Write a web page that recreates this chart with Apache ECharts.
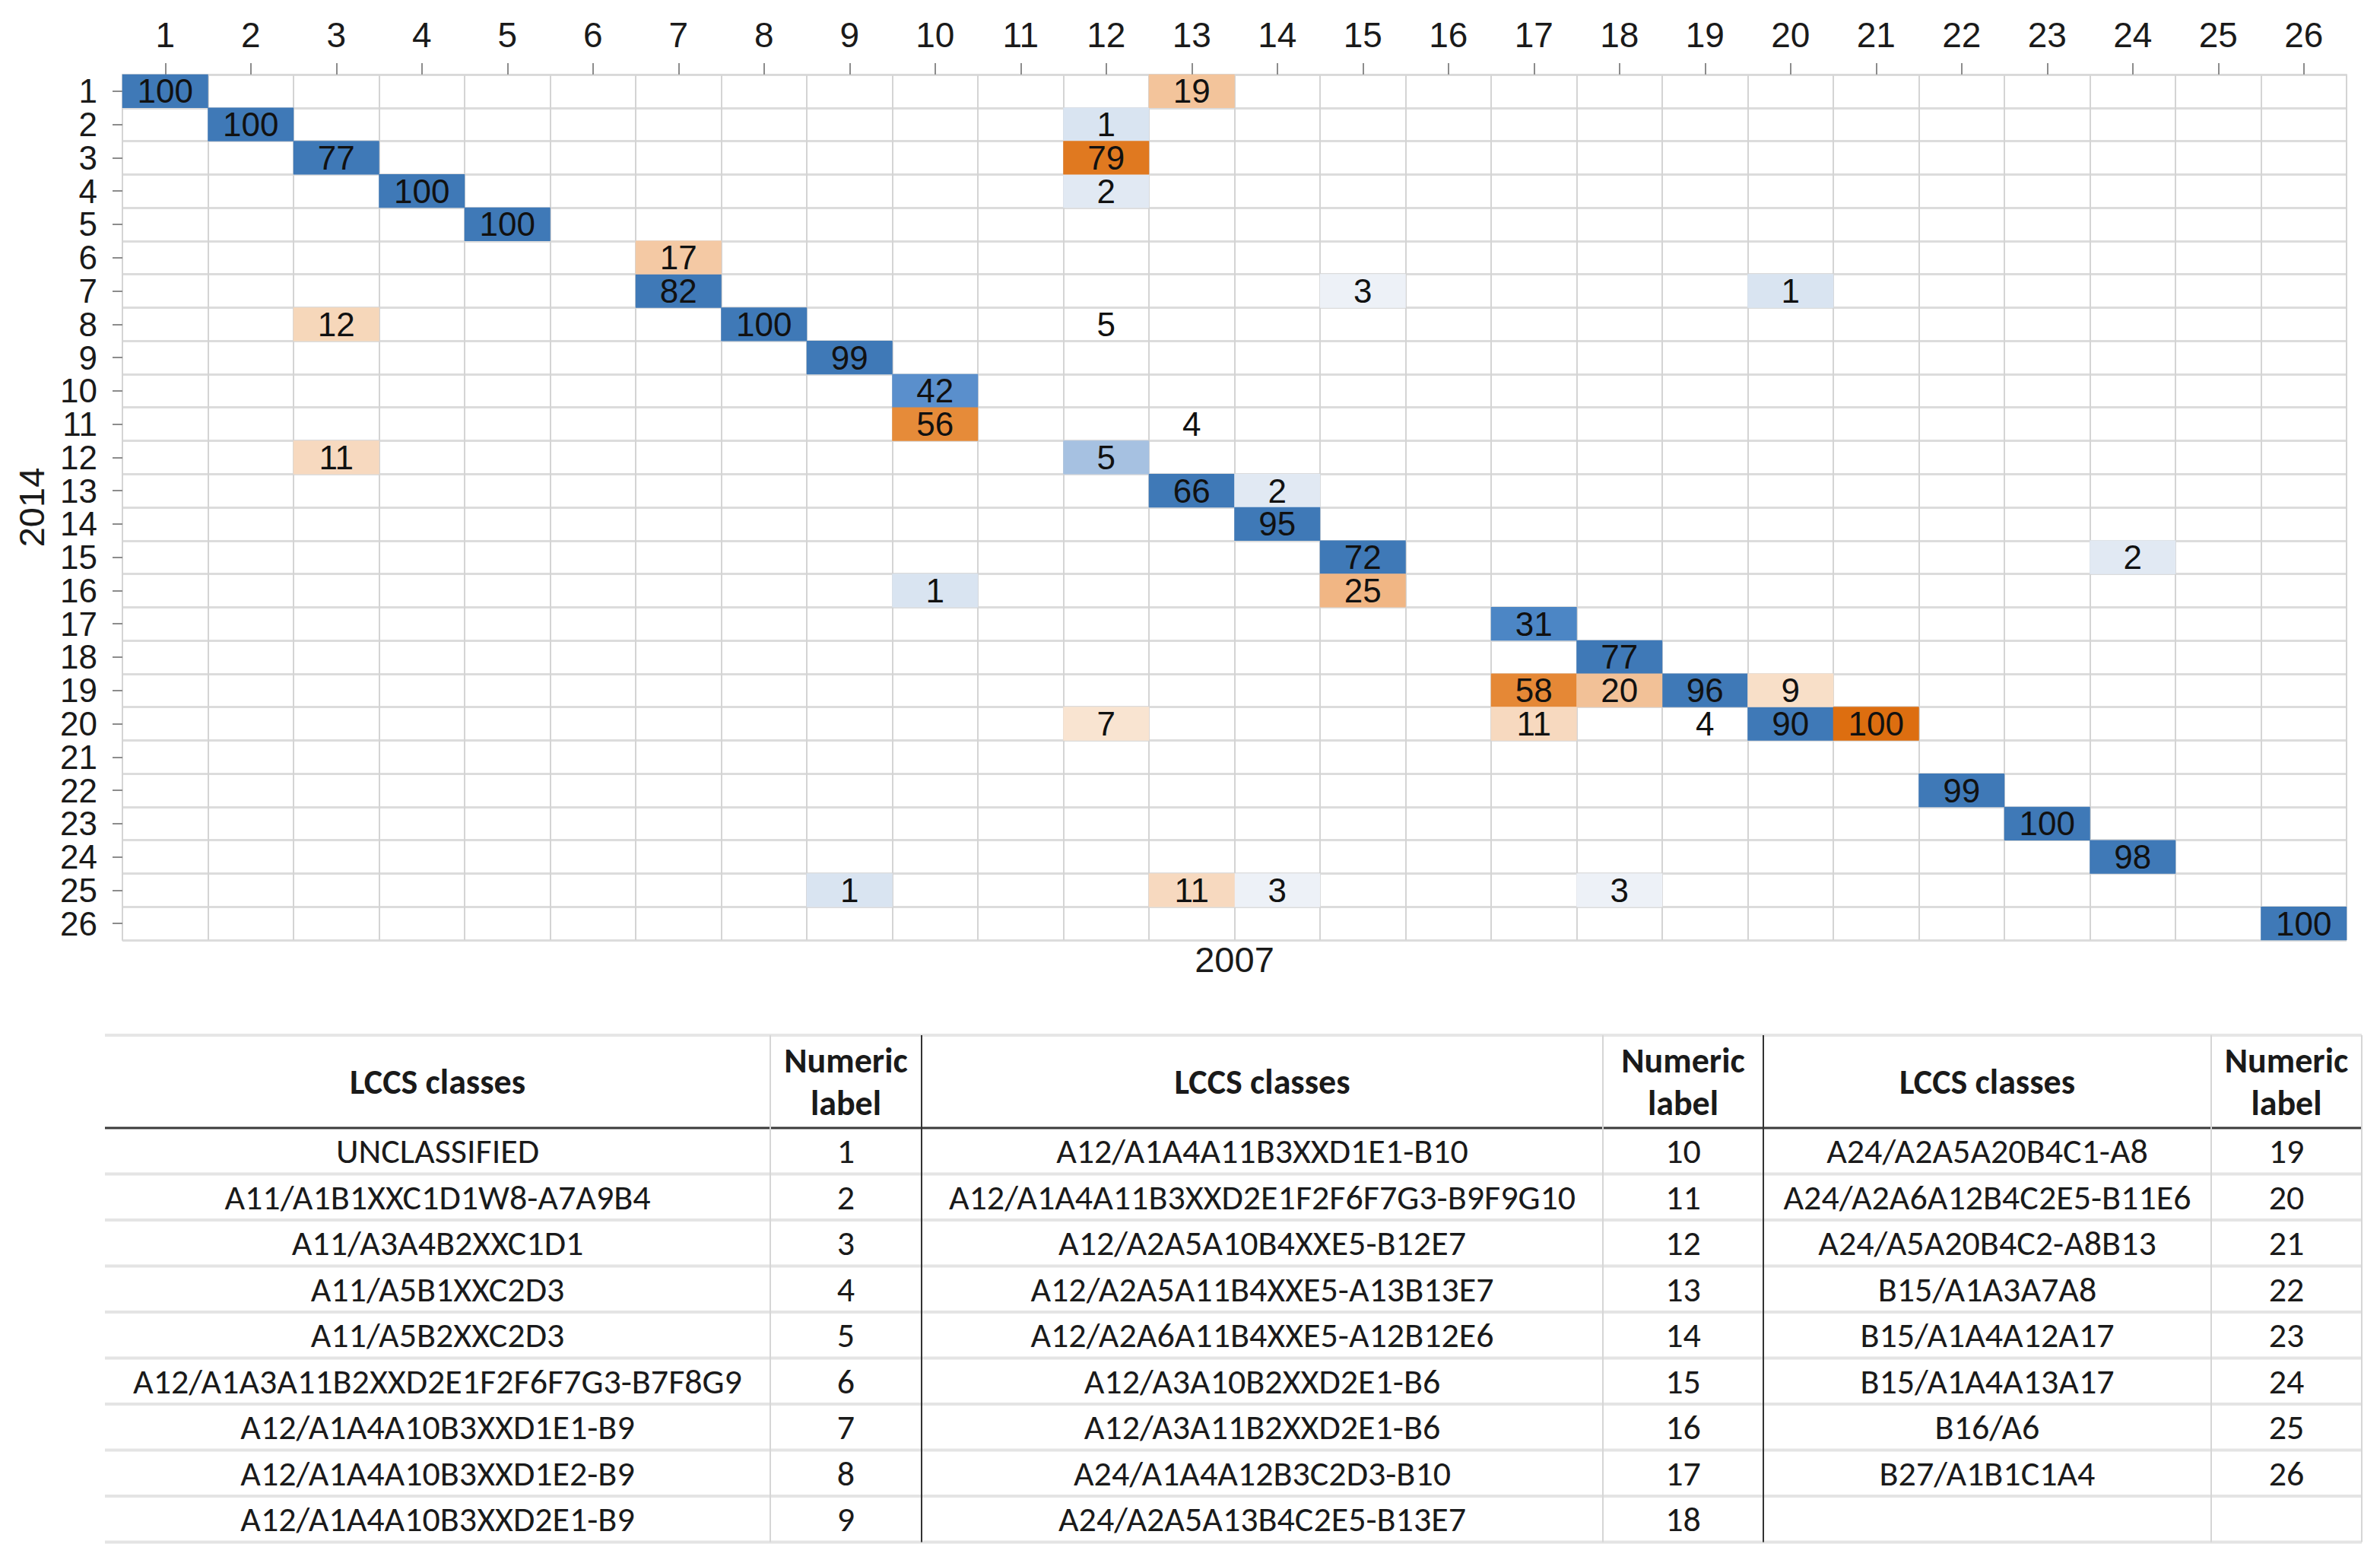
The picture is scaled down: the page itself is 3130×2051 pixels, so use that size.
<!DOCTYPE html>
<html>
<head>
<meta charset="utf-8">
<script src="https://cdn.jsdelivr.net/npm/echarts@6/dist/echarts.min.js"></script>
<style>
  html, body { margin: 0; padding: 0; background: #ffffff; }
  #chart { width: 3130px; height: 2051px; }
</style>
</head>
<body>
<div id="chart"></div>
<script>
// ---- DATA ----
// class numeric labels (used on both axes)
const classes2007 = ['1','2','3','4','5','6','7','8','9','10','11','12','13','14','15','16','17','18','19','20','21','22','23','24','25','26'];
const classes2014 = ['1','2','3','4','5','6','7','8','9','10','11','12','13','14','15','16','17','18','19','20','21','22','23','24','25','26'];

// [2007 class, 2014 class, percent] – blue shaded cells
const blueCells = [
  ['1','1',100], ['2','2',100], ['12','2',1], ['3','3',77], ['4','4',100], ['12','4',2],
  ['5','5',100], ['7','7',82], ['15','7',3], ['20','7',1], ['8','8',100], ['9','9',99],
  ['10','10',42], ['12','12',5], ['13','13',66], ['14','13',2], ['14','14',95],
  ['15','15',72], ['24','15',2], ['10','16',1], ['17','17',31], ['18','18',77],
  ['19','19',96], ['20','20',90], ['22','22',99], ['23','23',100], ['24','24',98],
  ['9','25',1], ['14','25',3], ['18','25',3], ['26','26',100]
];
// orange shaded cells
const orangeCells = [
  ['13','1',19], ['12','3',79], ['7','6',17], ['3','8',12], ['10','11',56], ['3','12',11],
  ['15','16',25], ['17','19',58], ['18','19',20], ['20','19',9], ['12','20',7],
  ['17','20',11], ['21','20',100], ['13','25',11]
];
// labelled cells without shading
const plainCells = [
  ['12','8',5], ['13','11',4], ['19','20',4]
];

// legend table
const lccsClasses = [
  'UNCLASSIFIED', 'A11/A1B1XXC1D1W8-A7A9B4', 'A11/A3A4B2XXC1D1', 'A11/A5B1XXC2D3',
  'A11/A5B2XXC2D3', 'A12/A1A3A11B2XXD2E1F2F6F7G3-B7F8G9', 'A12/A1A4A10B3XXD1E1-B9',
  'A12/A1A4A10B3XXD1E2-B9', 'A12/A1A4A10B3XXD2E1-B9', 'A12/A1A4A11B3XXD1E1-B10',
  'A12/A1A4A11B3XXD2E1F2F6F7G3-B9F9G10', 'A12/A2A5A10B4XXE5-B12E7', 'A12/A2A5A11B4XXE5-A13B13E7',
  'A12/A2A6A11B4XXE5-A12B12E6', 'A12/A3A10B2XXD2E1-B6', 'A12/A3A11B2XXD2E1-B6',
  'A24/A1A4A12B3C2D3-B10', 'A24/A2A5A13B4C2E5-B13E7', 'A24/A2A5A20B4C1-A8',
  'A24/A2A6A12B4C2E5-B11E6', 'A24/A5A20B4C2-A8B13', 'B15/A1A3A7A8', 'B15/A1A4A12A17',
  'B15/A1A4A13A17', 'B16/A6', 'B27/A1B1C1A4'
];
const numericLabels = ['1','2','3','4','5','6','7','8','9','10','11','12','13','14','15','16','17','18','19','20','21','22','23','24','25','26'];
const headerClass = 'LCCS classes';
const headerNumeric = 'Numeric\nlabel';

// ---- LAYOUT / STYLE ----
const AXIS_FONT = "Arial, 'Liberation Sans', sans-serif";
const TABLE_FONT = "Carlito, Calibri, 'Liberation Sans Narrow', sans-serif";

const bluePieces = [
  { lte: 1, color: '#d9e4f1' },
  { gt: 1, lte: 2, color: '#e1e9f3' },
  { gt: 2, lte: 3, color: '#edf1f7' },
  { gt: 3, lte: 10, color: '#a6c1e1' },
  { gt: 10, lte: 35, color: '#4c86c5' },
  { gt: 35, lte: 50, color: '#5a8fcc' },
  { gt: 50, color: '#3f79b7' }
];
const orangeRamp = ['#fdf8f3','#f7dcc3','#f2c197','#efab70','#eb9c55','#e89240','#e48634',
  '#e27e28','#e0781f','#df7317','#dd6e10'];

const groupCols = [[138, 1013, 1212], [1212, 2108, 2319], [2319, 2908, 3106]];
const tableTop = 1361, headerBottom = 1483, rowH = 60.5, rowsPerGroup = 9;

const graphics = [];
const tableLeft = groupCols[0][0], tableRight = groupCols[2][2];
const tableBottom = headerBottom + rowH * rowsPerGroup;
// horizontal rules
graphics.push({ type: 'line', shape: { x1: tableLeft, y1: tableTop, x2: tableRight, y2: tableTop },
  style: { stroke: '#e6e6e6', lineWidth: 4 } });
for (let i = 1; i <= rowsPerGroup; i++) {
  const y = headerBottom + i * rowH;
  graphics.push({ type: 'line', shape: { x1: tableLeft, y1: y, x2: tableRight, y2: y },
    style: { stroke: '#e4e4e4', lineWidth: 4 } });
}
graphics.push({ type: 'line', shape: { x1: tableLeft, y1: headerBottom, x2: tableRight, y2: headerBottom },
  style: { stroke: '#3a3a3a', lineWidth: 3 } });
// vertical rules
groupCols.forEach((g, gi) => {
  graphics.push({ type: 'line', shape: { x1: g[1], y1: tableTop, x2: g[1], y2: tableBottom },
    style: { stroke: '#d6d6d6', lineWidth: 2 } });
  if (gi < groupCols.length - 1) {
    graphics.push({ type: 'line', shape: { x1: g[2], y1: tableTop, x2: g[2], y2: tableBottom },
      style: { stroke: '#333333', lineWidth: 2 } });
  }
});
graphics.push({ type: 'line', shape: { x1: tableRight, y1: tableTop, x2: tableRight, y2: tableBottom },
  style: { stroke: '#d6d6d6', lineWidth: 2 } });

function txt(text, x, y, bold) {
  return { type: 'text', z: 10, style: { text: text, x: x, y: y, fill: '#1a1a1a',
    font: (bold ? 'bold ' : '') + '46px ' + TABLE_FONT, lineHeight: 56,
    align: 'center', verticalAlign: 'middle', textAlign: 'center', textVerticalAlign: 'middle' } };
}
const headerMid = (tableTop + headerBottom) / 2;
groupCols.forEach((g) => {
  graphics.push(txt(headerClass, (g[0] + g[1]) / 2, headerMid, true));
  graphics.push(txt(headerNumeric, (g[1] + g[2]) / 2, headerMid, true));
});
lccsClasses.forEach((name, i) => {
  const gi = Math.floor(i / rowsPerGroup), ri = i % rowsPerGroup;
  const g = groupCols[gi];
  const y = headerBottom + (ri + 0.5) * rowH;
  graphics.push(txt(name, (g[0] + g[1]) / 2, y, false));
  graphics.push(txt(numericLabels[i], (g[1] + g[2]) / 2, y, false));
});

const cellLabel = {
  show: true, fontFamily: AXIS_FONT, fontSize: 44, color: '#111111',
  formatter: (p) => String(p.value[2])
};

const chart = echarts.init(document.getElementById('chart'), null, { renderer: 'svg' });
chart.setOption({
  backgroundColor: '#ffffff',
  animation: false,
  grid: { left: 161, right: 44, top: 98, height: 1138, containLabel: false },
  xAxis: [{
    type: 'category', data: classes2007, position: 'top',
    axisLine: { show: true, lineStyle: { color: '#d9d9d9', width: 2 } },
    axisTick: { show: true, alignWithLabel: true, interval: 0, length: 15, lineStyle: { color: '#8c8c8c', width: 2 } },
    axisLabel: { fontFamily: AXIS_FONT, fontSize: 46, color: '#1a1a1a', margin: 29, interval: 0 },
    splitLine: { show: true, interval: 0, lineStyle: { color: '#d4d4d4', width: 2 } }
  }, {
    type: 'category', data: classes2007, position: 'bottom',
    name: '2007', nameLocation: 'middle', nameGap: 2,
    nameTextStyle: { fontFamily: AXIS_FONT, fontSize: 47, color: '#1a1a1a' },
    axisLine: { show: false }, axisTick: { show: false }, axisLabel: { show: false }, splitLine: { show: false }
  }],
  yAxis: {
    type: 'category', data: classes2014, inverse: true,
    name: '2014', nameLocation: 'middle', nameRotate: 90, nameGap: 96,
    nameTextStyle: { fontFamily: AXIS_FONT, fontSize: 47, color: '#1a1a1a' },
    axisLine: { show: true, lineStyle: { color: '#d4d4d4', width: 2 } },
    axisTick: { show: true, alignWithLabel: true, interval: 0, length: 13, lineStyle: { color: '#8c8c8c', width: 2 } },
    axisLabel: { fontFamily: AXIS_FONT, fontSize: 44, color: '#1a1a1a', margin: 33, interval: 0 },
    splitLine: { show: true, interval: 0, lineStyle: { color: '#dcdcdc', width: 3 } }
  },
  visualMap: [
    { type: 'piecewise', show: false, seriesIndex: 0, dimension: 2, pieces: bluePieces },
    { type: 'continuous', show: false, seriesIndex: 1, dimension: 2, min: 0, max: 100,
      inRange: { color: orangeRamp } }
  ],
  series: [
    { type: 'heatmap', name: 'blue', data: blueCells, label: cellLabel, emphasis: { disabled: true } },
    { type: 'heatmap', name: 'orange', data: orangeCells, label: cellLabel, emphasis: { disabled: true } },
    { type: 'heatmap', name: 'plain', data: plainCells, label: cellLabel,
      itemStyle: { color: 'rgba(255,255,255,0)' }, emphasis: { disabled: true } }
  ],
  graphic: graphics
});
</script>
</body>
</html>
